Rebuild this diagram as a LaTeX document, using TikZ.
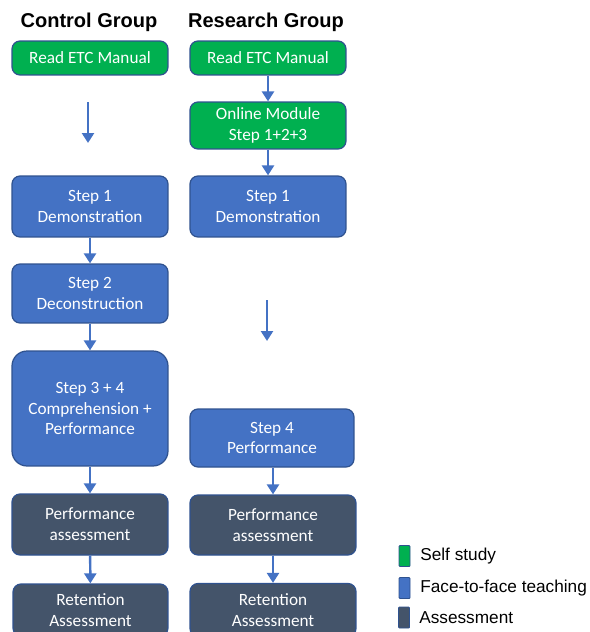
\documentclass[tikz,border=0pt]{standalone}
\usepackage{fontspec}
\setmainfont{Carlito}
\newfontfamily\headfont{Liberation Sans}
\usetikzlibrary{arrows.meta}

\definecolor{selfgreen}{HTML}{00B050}
\definecolor{teachblue}{HTML}{4472C4}
\definecolor{assessgrey}{HTML}{44546A}
\definecolor{edgeblue}{HTML}{2F528F}

\tikzset{
    box/.style={draw=edgeblue, line width=0.7pt, rounded corners=0.16cm, text=white,
                align=center, inner sep=0pt, font=\fontsize{9.8}{11.9}\selectfont},
    selfbox/.style={box, fill=selfgreen},
    teachbox/.style={box, fill=teachblue},
    assessbox/.style={box, fill=assessgrey},
    flow/.style={teachblue, line width=1.4pt, -{Triangle[length=2mm,width=2.4mm]}},
    head/.style={font=\headfont\bfseries\fontsize{11.4}{13}\selectfont},
    key/.style={draw=edgeblue, line width=0.5pt, rounded corners=0.5pt, minimum width=0.22cm,
                minimum height=0.42cm, inner sep=0pt},
    keytext/.style={anchor=west, inner sep=0pt, font=\headfont\fontsize{9.8}{11}\selectfont}
}

\begin{document}
\begin{tikzpicture}[x=0.02cm, y=-0.02cm]

    \useasboundingbox (0,0) rectangle (589,632);

    \node (ctrlhead) [head] at (89,22) {Control Group};
    \node (reshead)  [head] at (266,22) {Research Group};

    \node (cread)  [selfbox, minimum width=3.12cm, minimum height=0.68cm] at (90,58) {Read ETC Manual};
    \node (cstep1) [teachbox, minimum width=3.12cm, minimum height=1.22cm] at (90,206.5) {Step 1\\Demonstration};
    \node (cstep2) [teachbox, minimum width=3.12cm, minimum height=1.18cm] at (90,293.5) {Step 2\\Deconstruction};
    \node (cstep34) [teachbox, rounded corners=0.3cm, minimum width=3.12cm, minimum height=2.3cm] at (90,408.5) {Step 3 + 4\\Comprehension +\\Performance};
    \node (cperf)  [assessbox, minimum width=3.12cm, minimum height=1.22cm] at (90,524.5) {Performance\\assessment};
    \node (cret)   [assessbox, minimum width=3.1cm, minimum height=1.04cm] at (90.5,610) {Retention\\Assessment};

    \node (rread)   [selfbox, minimum width=3.12cm, minimum height=0.68cm] at (268,58) {Read ETC Manual};
    \node (ronline) [selfbox, minimum width=3.12cm, minimum height=0.94cm] at (268,125.5) {Online Module\\Step 1+2+3};
    \node (rstep1)  [teachbox, minimum width=3.12cm, minimum height=1.22cm] at (268,206.5) {Step 1\\Demonstration};
    \node (rstep4)  [teachbox, minimum width=3.28cm, minimum height=1.16cm] at (272,438) {Step 4\\Performance};
    \node (rperf)   [assessbox, minimum width=3.32cm, minimum height=1.2cm] at (273,525) {Performance\\assessment};
    \node (rret)    [assessbox, minimum width=3.32cm, minimum height=1.06cm] at (273,610) {Retention\\Assessment};

    \coordinate (cgaptop) at (88,102);
    \coordinate (cgapend) at (88,143);
    \coordinate (rgaptop) at (267,300);
    \coordinate (rgapend) at (267,341);

    \draw[flow] (cgaptop) -- (cgapend);
    \draw[flow] (cstep1) -- (cstep2);
    \draw[flow] (cstep2) -- (cstep34);
    \draw[flow] (cstep34) -- (cperf);
    \draw[flow] (cperf) -- (cret);

    \draw[flow] (rread) -- (ronline);
    \draw[flow] (ronline) -- (rstep1);
    \draw[flow] (rgaptop) -- (rgapend);
    \draw[flow] (rstep4.south -| rperf) -- (rperf);
    \draw[flow] (rperf) -- (rret);

    \node (selfkey)   [key, fill=selfgreen]  at (404.5,556) {};
    \node (teachkey)  [key, fill=teachblue]  at (404.5,588) {};
    \node (assesskey) [key, fill=assessgrey] at (404,617.5) {};

    \node (selftext)   [keytext] at (420,556) {Self study};
    \node (teachtext)  [keytext] at (420,588) {Face-to-face teaching};
    \node (assesstext) [keytext] at (419,618) {Assessment};

\end{tikzpicture}
\end{document}
